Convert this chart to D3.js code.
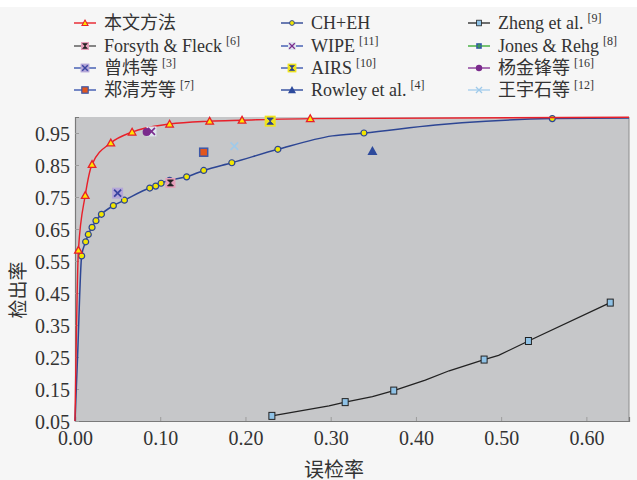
<!DOCTYPE html>
<html lang="zh">
<head>
<meta charset="utf-8">
<title>ROC</title>
<script src="https://cdn.jsdelivr.net/npm/d3@7"></script>
<style>
  body { margin: 0; background: #fff; }
  svg text { font-family: "Liberation Serif", "Noto Sans CJK SC", serif; fill: #333; }
</style>
</head>
<body>
<svg id="chart" width="637" height="480"></svg>
<script>
// ---- data ----
const xTicks = [0, 0.1, 0.2, 0.3, 0.4, 0.5, 0.6];
const yTicks = [0.05, 0.15, 0.25, 0.35, 0.45, 0.55, 0.65, 0.75, 0.85, 0.95];

// 本文方法
const oursFpr = [0, 0.004, 0.012, 0.020, 0.042, 0.067, 0.111, 0.158, 0.196, 0.276, 0.65];
const oursTpr = [0.05, 0.584, 0.755, 0.852, 0.919, 0.953, 0.978, 0.987, 0.990, 0.995, 0.999];
const oursMark = [0, 1, 1, 1, 1, 1, 1, 1, 1, 1, 0];

// CH+EH
const chFpr = [0, 0.003, 0.0078, 0.0125, 0.0156, 0.020, 0.0246, 0.031, 0.045, 0.058, 0.0877, 0.0947,
               0.101, 0.111, 0.131, 0.151, 0.184, 0.238, 0.302, 0.339, 0.423, 0.454, 0.560, 0.65];
const chTpr = [0.05, 0.25, 0.566, 0.61, 0.633, 0.655, 0.676, 0.696, 0.723, 0.74, 0.778, 0.784,
               0.793, 0.802, 0.813, 0.833, 0.857, 0.899, 0.941, 0.95, 0.975, 0.982, 0.995, 0.997];
const chMark = [0, 0, 1, 1, 1, 1, 1, 1, 1, 1, 1, 1, 1, 1, 1, 1, 1, 1, 0, 1, 0, 0, 1, 0];

// Zheng et al. [9]
const zhengFpr = [0.231, 0.298, 0.317, 0.349, 0.374, 0.411, 0.439, 0.480, 0.497, 0.532, 0.628];
const zhengTpr = [0.066, 0.097, 0.109, 0.126, 0.145, 0.178, 0.207, 0.242, 0.255, 0.30, 0.42];
const zhengMark = [1, 0, 1, 0, 1, 0, 0, 1, 0, 1, 1];

// single operating points
const singleNames = ["forsyth", "zeng", "wipe", "yang", "zheng7", "airs", "rowley", "wang"];
const singleFpr = [0.112, 0.050, 0.0897, 0.084, 0.151, 0.229, 0.349, 0.187];
const singleTpr = [0.794, 0.762, 0.955, 0.953, 0.890, 0.987, 0.894, 0.909];

// legend, row by row (3 columns)
const legendNames = ["本文方法", "CH+EH", "Zheng et al.",
                     "Forsyth & Fleck", "WIPE", "Jones & Rehg",
                     "曾炜等", "AIRS", "杨金锋等",
                     "郑清芳等", "Rowley et al.", "王宇石等"];
const legendRefs = ["", "", "[9]", "[6]", "[11]", "[8]", "[3]", "[10]", "[16]", "[7]", "[4]", "[12]"];
const legendKeys = ["ours", "ch", "zhengLine", "forsyth", "wipe", "jones",
                    "zeng", "airs", "yang", "zheng7", "rowley", "wang"];

// ---- layout ----
const svg = d3.select("#chart");
const m = {left: 75, right: 629, top: 117, bottom: 421};

const x = d3.scaleLinear().domain([0, 0.65]).range([m.left, m.right]);
const y = d3.scaleLinear().domain([0.05, 1.0]).range([m.bottom, m.top]);

svg.append("rect").attr("x", 0).attr("y", 7).attr("width", 637).attr("height", 473).attr("fill", "#f6f6f6");

svg.append("rect")
  .attr("x", m.left).attr("y", m.top)
  .attr("width", m.right - m.left).attr("height", m.bottom - m.top)
  .attr("fill", "#c6c7c9");
svg.append("line").attr("x1", m.right).attr("x2", m.right).attr("y1", m.top).attr("y2", m.bottom)
  .attr("stroke", "#8c8c8c");

// axes
const xAxis = svg.append("g").attr("transform", `translate(0,${m.bottom})`)
  .call(d3.axisBottom(x).tickValues(xTicks).tickFormat(d3.format(".2f")).tickSize(-4).tickPadding(10));
const yAxis = svg.append("g").attr("transform", `translate(${m.left},0)`)
  .call(d3.axisLeft(y).tickValues(yTicks).tickFormat(d3.format(".2f")).tickSize(-4).tickPadding(5));

[xAxis, yAxis].forEach(g => {
  g.select(".domain").attr("stroke", "#7a7a7a").attr("stroke-width", 1.2);
  g.selectAll(".tick line").attr("stroke", "#9c9c9c");
  g.selectAll(".tick text").attr("font-size", 20).attr("fill", "#333")
    .style("font-family", "'Liberation Serif', serif");
});
xAxis.select(".tick line").remove();
yAxis.selectAll(".tick text").attr("dy", "0.36em");

svg.append("text").attr("x", 334).attr("y", 477).attr("text-anchor", "middle")
  .attr("font-size", 20).text("误检率");
svg.append("text").attr("transform", "translate(25,290) rotate(-90)").attr("text-anchor", "middle")
  .attr("font-size", 19).text("检出率");

// ---- marker drawing ----
function marker(g, type, cx, cy) {
  const s = g.append("g").attr("transform", `translate(${cx},${cy})`);
  const xPath = r => `M${-r},${-r}L${r},${r}M${-r},${r}L${r},${-r}`;
  const hourglass = r => `M${-r},${-r}L${r},${-r}L${-r},${r}L${r},${r}Z`;
  switch (type) {
    case "ours":
      s.append("path").attr("d", "M0,-3.8L3.8,3L-3.8,3Z")
        .attr("fill", "#ffe600").attr("stroke", "#e8202a").attr("stroke-width", 1.3);
      break;
    case "ch":
      s.append("circle").attr("r", 3)
        .attr("fill", "#f2e600").attr("stroke", "#2d4694").attr("stroke-width", 1.2);
      break;
    case "zhengLine":
      s.append("rect").attr("x", -3).attr("y", -3.5).attr("width", 6).attr("height", 7)
        .attr("fill", "#8fc2e6").attr("stroke", "#222").attr("stroke-width", 1);
      break;
    case "forsyth":
      s.append("rect").attr("x", -5).attr("y", -5).attr("width", 10).attr("height", 10).attr("fill", "#e59fba");
      s.append("path").attr("d", hourglass(3)).attr("fill", "#222").attr("stroke", "#222").attr("stroke-width", 0.8);
      break;
    case "wipe":
      s.append("rect").attr("x", -5).attr("y", -5).attr("width", 10).attr("height", 10).attr("fill", "#dfe5ef");
      s.append("path").attr("d", xPath(3.5)).attr("stroke", "#7b2d8e").attr("stroke-width", 1.6);
      break;
    case "jones":
      s.append("rect").attr("x", -3.5).attr("y", -3.5).attr("width", 7).attr("height", 7).attr("fill", "#3355aa");
      s.append("path").attr("d", "M-3,0H3M0,-3V3").attr("stroke", "#3fae3a").attr("stroke-width", 1.3);
      break;
    case "zeng":
      s.append("rect").attr("x", -5.5).attr("y", -5.5).attr("width", 11).attr("height", 11).attr("fill", "#b4a6d8");
      s.append("path").attr("d", xPath(3.5)).attr("stroke", "#3a44a0").attr("stroke-width", 1.8);
      break;
    case "airs":
      s.append("rect").attr("x", -5.5).attr("y", -5.5).attr("width", 11).attr("height", 11).attr("fill", "#efe31c");
      s.append("path").attr("d", hourglass(3.2)).attr("fill", "#2a3f8f").attr("stroke", "#2a3f8f").attr("stroke-width", 0.8);
      break;
    case "yang":
      s.append("circle").attr("r", 4).attr("fill", "#7a2a8c");
      break;
    case "zheng7":
      s.append("rect").attr("x", -4).attr("y", -4).attr("width", 8).attr("height", 8)
        .attr("fill", "#e2561e").attr("stroke", "#3d58a8").attr("stroke-width", 1.5);
      break;
    case "rowley":
      s.append("path").attr("d", "M0,-5L5,4L-5,4Z").attr("fill", "#2d4a9c");
      break;
    case "wang":
      s.append("path").attr("d", xPath(3.8)).attr("stroke", "#9fcaea").attr("stroke-width", 1.6);
      break;
  }
}

// ---- curves ----
const plot = svg.append("g");
function series(fpr, tpr, marks, color, width, curve, type) {
  const pts = fpr.map((d, i) => ({fx: d, ty: tpr[i], m: marks[i]}));
  plot.append("path").datum(pts)
    .attr("fill", "none").attr("stroke", color).attr("stroke-width", width)
    .attr("d", d3.line().x(d => x(d.fx)).y(d => y(d.ty)).curve(curve));
  pts.filter(d => d.m).forEach(d => marker(plot, type, x(d.fx), y(d.ty)));
}

series(zhengFpr, zhengTpr, zhengMark, "#222", 1.3, d3.curveLinear, "zhengLine");
series(chFpr, chTpr, chMark, "#2d4694", 1.5, d3.curveMonotoneX, "ch");
series(oursFpr, oursTpr, oursMark, "#e8202a", 1.4, d3.curveMonotoneX, "ours");

singleNames.forEach((n, i) => marker(plot, n, x(singleFpr[i]), y(singleTpr[i])));

// ---- legend ----
const legendLine = {ours: "#e8202a", ch: "#2d4694", zhengLine: "#333", forsyth: "#555",
  wipe: "#3d58b0", jones: "#3fae3a", zeng: "#3d58b0", airs: "#3d58b0", yang: "#8a3a98",
  zheng7: "#3d58b0", rowley: "#2d4a9c", wang: "#a9d0ee"};
const colX = [85, 292, 479];
const rowY = [23, 46, 68, 90];
const leg = svg.append("g");
legendNames.forEach((name, i) => {
  const cx = colX[i % 3], cy = rowY[Math.floor(i / 3)];
  const key = legendKeys[i];
  leg.append("line").attr("x1", cx - 11).attr("x2", cx + 11).attr("y1", cy).attr("y2", cy)
    .attr("stroke", legendLine[key]).attr("stroke-width", 1.4);
  const g = leg.append("g");
  marker(g, key, cx, cy);
  g.attr("transform", `translate(${cx},${cy}) scale(0.8) translate(${-cx},${-cy})`);
  const t = leg.append("text").attr("x", cx + 19).attr("y", cy + 6).attr("font-size", 18).text(name);
  if (legendRefs[i]) {
    t.append("tspan").attr("dx", 4).attr("dy", -7).attr("font-size", 12).text(legendRefs[i]);
  }
});
</script>
</body>
</html>
